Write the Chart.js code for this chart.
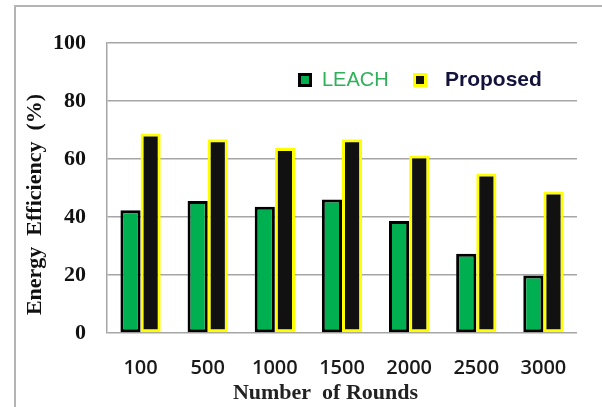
<!DOCTYPE html>
<html>
<head>
<meta charset="utf-8">
<script src="https://cdn.jsdelivr.net/npm/chart.js@4"></script>
<style>
  body { margin: 0; background: #fff; }
  #wrap { width: 602px; height: 407px; }
</style>
</head>
<body>
<div id="wrap"><canvas id="effChart" width="602" height="407"></canvas></div>
<script>
// data
var rounds = ['100', '500', '1000', '1500', '2000', '2500', '3000'];
var leach = [42.3, 45.5, 43.5, 46, 38.6, 27.3, 19.8];
var proposed = [68.8, 66.8, 63.8, 66.8, 61.2, 55, 48.8];
var yTicks = [0, 20, 40, 60, 80, 100];

// frame round the picture + legend drawn inside the plot
var framePlugin = {
    id: 'frame',
    beforeDraw: function(chart) {
        var ctx = chart.ctx;
        ctx.save();
        ctx.strokeStyle = '#b4b4b4';
        ctx.lineWidth = 2;
        ctx.beginPath();
        ctx.moveTo(15, 407);
        ctx.lineTo(15, 6);
        ctx.lineTo(602, 6);
        ctx.stroke();
        ctx.restore();
    }
};

var legendPlugin = {
    id: 'boxLegend',
    afterDraw: function(chart, args, opts) {
        var ctx = chart.ctx;
        ctx.save();
        chart.data.datasets.forEach(function(ds, i) {
            var bx = opts.boxX[i], by = opts.y - 7;
            ctx.fillStyle = ds.backgroundColor;
            ctx.fillRect(bx, by, 14, 14);
            ctx.strokeStyle = ds.borderColor;
            ctx.lineWidth = 3;
            ctx.strokeRect(bx + 1.5, by + 1.5, 11, 11);
            ctx.font = opts.fonts[i];
            ctx.fillStyle = opts.colors[i];
            ctx.textBaseline = 'middle';
            ctx.textAlign = 'left';
            ctx.fillText(ds.label, opts.textX[i], opts.y);
        });
        ctx.restore();
    }
};

var effChart = new Chart(document.getElementById('effChart'), {
    type: 'bar',
    data: {
        labels: rounds,
        datasets: [
            {
                label: 'LEACH',
                data: leach,
                backgroundColor: '#00b050',
                borderColor: '#000000',
                borderWidth: 3,
                borderSkipped: false
            },
            {
                label: 'Proposed',
                data: proposed,
                backgroundColor: '#111111',
                borderColor: '#ffff00',
                borderWidth: 3,
                borderSkipped: false
            }
        ]
    },
    options: {
        responsive: false,
        animation: false,
        layout: { padding: { left: 0, top: 43, right: 25, bottom: 0 } },
        datasets: { bar: { categoryPercentage: 0.6, barPercentage: 1.0 } },
        plugins: {
            legend: { display: false },
            tooltip: { enabled: false },
            boxLegend: {
                boxX: [298, 413],
                textX: [322, 445],
                y: 80,
                fonts: ['20px "Liberation Sans"', 'bold 21px "Liberation Sans"'],
                colors: ['#2fb05a', '#12123a']
            }
        },
        scales: {
            x: {
                grid: { display: false },
                border: { display: false },
                ticks: {
                    padding: 15,
                    color: '#1a1a1a',
                    font: { family: '"Open Sans"', size: 20, weight: '600' }
                },
                title: {
                    display: true,
                    text: 'Number  of Rounds      ',
                    color: '#222',
                    padding: { top: 0, bottom: 0 },
                    font: { family: '"Liberation Serif"', size: 22, weight: 'bold' }
                },
                afterFit: function(scale) { scale.height = 74; }
            },
            y: {
                min: 0,
                max: 100,
                afterBuildTicks: function(scale) {
                    scale.ticks = yTicks.map(function(v) { return { value: v }; });
                },
                grid: { color: '#a6a6a6', lineWidth: 1.5, drawTicks: false },
                border: { display: true, color: '#a6a6a6', width: 1.5 },
                ticks: {
                    padding: 21,
                    color: '#111',
                    font: { family: '"Liberation Serif"', size: 22, weight: 'bold' }
                },
                title: {
                    display: true,
                    text: 'Energy  Efficiency  (%)      ',
                    color: '#111',
                    padding: { top: 22, bottom: 0 },
                    font: { family: '"Liberation Serif"', size: 22, weight: 'bold' }
                },
                afterFit: function(scale) { scale.width = 107; }
            }
        }
    },
    plugins: [framePlugin, legendPlugin]
});
</script>
</body>
</html>
